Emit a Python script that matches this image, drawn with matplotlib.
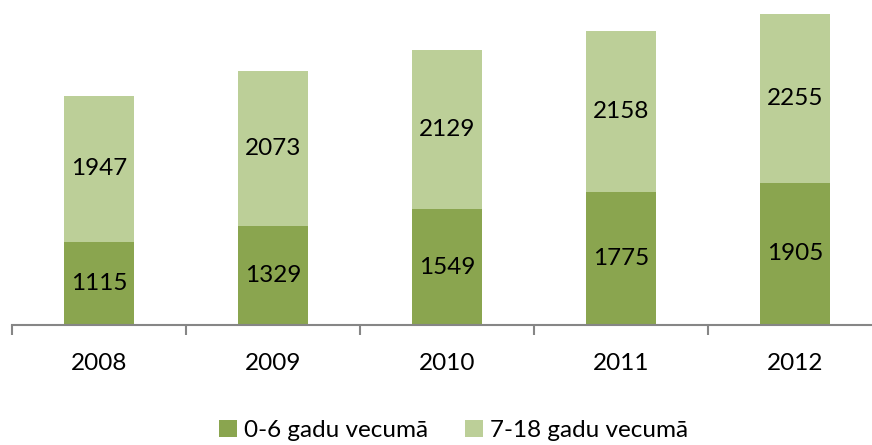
import matplotlib
matplotlib.use("Agg")
import matplotlib.pyplot as plt
from matplotlib.patches import Patch
import numpy as np

# data
years = ["2008", "2009", "2010", "2011", "2012"]
age_0_6 = [1115, 1329, 1549, 1775, 1905]
age_7_18 = [1947, 2073, 2129, 2158, 2255]
series_names = ["0-6 gadu vecumā", "7-18 gadu vecumā"]

dark_green = "#8aa54f"
light_green = "#bccf98"
axis_grey = "#868686"

plt.rcParams['font.family'] = ['Lato', 'DejaVu Sans']
fs = 17.5

fig = plt.figure(figsize=(8.72, 4.45), dpi=100)
# plot area runs a little past the right edge, like the original
ax = fig.add_axes([12/872, 120/445, 870/872, 325/445])

x = np.arange(len(years))
bar_w = 0.40
ax.bar(x, age_0_6, bar_w, color=dark_green, label=series_names[0])
ax.bar(x, age_7_18, bar_w, bottom=age_0_6, color=light_green, label=series_names[1])

for i in range(len(years)):
    ax.text(x[i], age_0_6[i] / 2, str(age_0_6[i]), ha="center", va="center", fontsize=fs)
    ax.text(x[i], age_0_6[i] + age_7_18[i] / 2, str(age_7_18[i]), ha="center", va="center", fontsize=fs)

ax.set_xlim(-0.5, len(years) - 0.5)
ax.set_ylim(0, 4350)

for s in ["top", "right", "left"]:
    ax.spines[s].set_visible(False)
ax.spines["bottom"].set_color(axis_grey)
ax.spines["bottom"].set_linewidth(1.5)
ax.set_yticks([])

# tick marks sit between the categories, labels sit under the bars
ax.set_xticks(np.arange(-0.5, len(years), 1.0))
ax.set_xticklabels([])
ax.tick_params(axis="x", which="major", direction="out", length=7, width=1.5, color=axis_grey)
ax.set_xticks(x, minor=True)
ax.set_xticklabels(years, minor=True, fontsize=fs)
ax.tick_params(axis="x", which="minor", length=0, pad=20)

handles = [Patch(facecolor=dark_green), Patch(facecolor=light_green)]
fig.legend(handles, series_names, loc="lower center", bbox_to_anchor=(0.52, -0.04),
           ncol=2, frameon=False, fontsize=fs, handlelength=0.75, handleheight=0.75,
           handletextpad=0.3, columnspacing=1.5)

fig.savefig("out.png", dpi=100)
